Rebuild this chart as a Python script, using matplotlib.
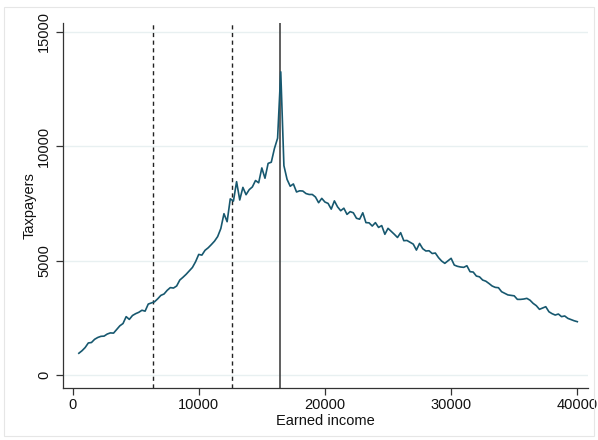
import numpy as np
import matplotlib
matplotlib.use("Agg")
from matplotlib import pyplot as plt
from matplotlib.patches import Rectangle

plt.rcParams['font.family'] = ['Liberation Sans', 'DejaVu Sans']

# bin centres of earned income, $250 bins
income = np.arange(500, 40001, 250)

taxpayers = [
    950, 1060, 1200, 1400, 1420, 1560, 1640, 1690, 1700, 1790,
    1840, 1830, 1990, 2150, 2250, 2550, 2430, 2600, 2680, 2740,
    2830, 2790, 3100, 3150, 3200, 3330, 3480, 3540, 3700, 3820,
    3800, 3890, 4150, 4270, 4400, 4550, 4700, 4950, 5270, 5240,
    5450, 5560, 5700, 5850, 6050, 6400, 7050, 6700, 7700, 7600,
    8450, 7650, 8200, 7880, 8100, 8220, 8500, 8400, 9050, 8600,
    9250, 9300, 9900, 10350, 13250, 9150, 8550, 8250, 8350, 8000,
    8050, 8040, 7930, 7890, 7890, 7780, 7530, 7720, 7560, 7500,
    7250, 7610, 7350, 7180, 7290, 7020, 7140, 7090, 6850, 6810,
    7090, 6660, 6650, 6510, 6660, 6450, 6530, 6150, 6410, 6280,
    6150, 6010, 6220, 5870, 5880, 5800, 5720, 5460, 5750, 5520,
    5420, 5430, 5310, 5330, 5130, 4980, 4880, 4990, 5100, 4805,
    4750, 4720, 4705, 4775, 4515, 4500, 4325, 4290, 4150, 4100,
    4000, 3890, 3830, 3815, 3640, 3570, 3500, 3480, 3460, 3305,
    3305, 3320, 3350, 3270, 3130, 3030, 2870, 2930, 2985, 2765,
    2680, 2620, 2665, 2550, 2580, 2475, 2420, 2370, 2330,
]

kinks_dashed = [6400, 12630]
kink_solid = 16450

x_ticks = [0, 10000, 20000, 30000, 40000]
y_ticks = [0, 5000, 10000, 15000]

fig = plt.figure(figsize=(5.98, 4.40), dpi=100)
fig.patches.append(Rectangle((4 / 598, 4 / 440), 590 / 598, 429 / 440,
                             transform=fig.transFigure, fill=False,
                             edgecolor='#e6e6e6', linewidth=0.8))
ax = fig.add_axes([0.1054, 0.1182, 0.8779, 0.8298])

for y in y_ticks:
    ax.axhline(y, color='#e8f0f1', linewidth=1.0, zorder=0)

ax.plot(income, taxpayers, color='#17586f', linewidth=1.2, zorder=3)

for k in kinks_dashed:
    ax.axvline(k, color='#222222', linewidth=1.0, linestyle=(0, (3, 2.5)), zorder=2)
ax.axvline(kink_solid, color='#444444', linewidth=1.2, zorder=2)

ax.set_xlim(-753, 40848)
ax.set_ylim(-568, 15390)
ax.set_xticks(x_ticks)
ax.set_yticks(y_ticks)
ax.set_yticklabels([str(v) for v in y_ticks], rotation=90, va='center')

for s in ['top', 'right']:
    ax.spines[s].set_visible(False)
for s in ['left', 'bottom']:
    ax.spines[s].set_color('#333333')
    ax.spines[s].set_linewidth(0.9)
ax.tick_params(direction='out', length=5, width=0.9, color='#333333',
               labelsize=10.5, labelcolor='#111111')
ax.tick_params(axis='x', pad=2)

ax.set_xlabel('Earned income', fontsize=10.5, color='#111111')
ax.set_ylabel('Taxpayers', fontsize=10.5, color='#111111')
ax.yaxis.set_label_coords(-0.05, 0.5)
ax.xaxis.set_label_coords(0.5, -0.072)

fig.savefig('out.png', dpi=100)
